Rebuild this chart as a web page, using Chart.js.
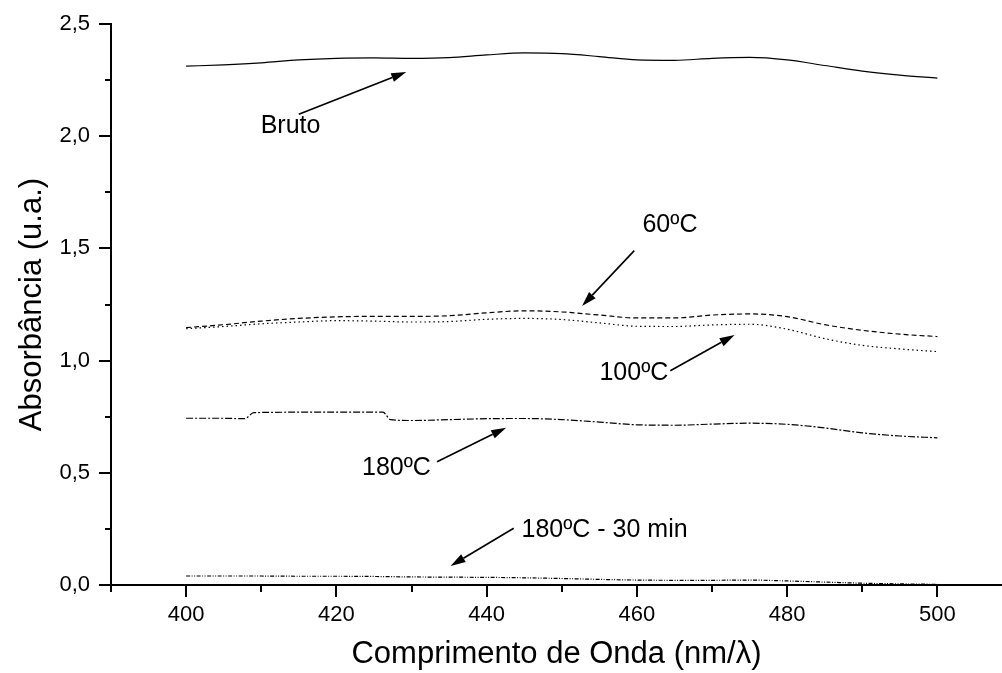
<!DOCTYPE html>
<html>
<head>
<meta charset="utf-8">
<script src="https://cdn.jsdelivr.net/npm/chart.js@4/dist/chart.umd.min.js"></script>
<style>
  html, body { margin: 0; padding: 0; background: #fff; }
  #wrap { width: 1002px; height: 673px; }
</style>
</head>
<body>
<div id="wrap"><canvas id="absChart"></canvas></div>
<script>
// wavelengths (nm)
var wl = [400, 405, 410, 415, 420, 425, 430, 435, 440, 445, 450,
          455, 460, 465, 470, 475, 480, 485, 490, 495, 500];
var wl180 = [400, 405, 407.8, 409, 415, 420, 426.2, 427.2, 430, 435, 440, 445, 450,
             455, 460, 465, 470, 475, 480, 485, 490, 495, 500];

// absorbance values
var bruto = [2.312, 2.318, 2.327, 2.340, 2.347, 2.349, 2.347, 2.350, 2.362, 2.371, 2.368,
             2.355, 2.340, 2.338, 2.347, 2.351, 2.340, 2.315, 2.290, 2.272, 2.259];
var t60 = [1.147, 1.160, 1.176, 1.188, 1.195, 1.197, 1.197, 1.200, 1.213, 1.222, 1.217,
           1.203, 1.190, 1.190, 1.203, 1.208, 1.196, 1.160, 1.135, 1.118, 1.107];
var t100 = [1.142, 1.152, 1.164, 1.172, 1.178, 1.176, 1.172, 1.174, 1.184, 1.188, 1.183,
            1.168, 1.153, 1.152, 1.159, 1.162, 1.140, 1.098, 1.068, 1.052, 1.040];
var t180 = [0.743, 0.743, 0.741, 0.768, 0.770, 0.770, 0.770, 0.737, 0.733, 0.737, 0.741, 0.742, 0.737,
            0.726, 0.714, 0.712, 0.717, 0.721, 0.716, 0.700, 0.678, 0.664, 0.656];
var t180_30 = [0.040, 0.040, 0.040, 0.039, 0.039, 0.038, 0.036, 0.035, 0.034, 0.032, 0.029,
               0.025, 0.022, 0.021, 0.021, 0.022, 0.018, 0.013, 0.008, 0.005, 0.003];

// annotation labels: text position and arrow (from -> tip), in data units
var noteText = ['Bruto', '60ºC', '100ºC', '180ºC', '180ºC - 30 min'];
var noteAt = [[413.9, 2.045], [464.4, 1.602], [459.6, 0.943], [428.0, 0.519], [455.7, 0.243]];
var arrowFrom = [[415.0, 2.098], [459.65, 1.490], [464.45, 0.955], [433.4, 0.549], [443.6, 0.253]];
var arrowTo = [[429.3, 2.286], [452.7, 1.243], [473.0, 1.114], [442.6, 0.701], [435.2, 0.085]];

var FONT = "'Liberation Sans', Arial, sans-serif";

function pts(xs, ys) {
    return xs.map(function (x, i) { return { x: x, y: ys[i] }; });
}

// draws the axis ticks (long on labelled values, short in between) and the notes
var extras = {
    id: 'extras',
    afterDraw: function (chart) {
        var ctx = chart.ctx, xs = chart.scales.x, ys = chart.scales.y;
        var area = chart.chartArea;
        ctx.save();
        ctx.strokeStyle = '#000';
        ctx.lineWidth = 2;
        ctx.beginPath();
        for (var v = 390; v <= 500; v += 10) {
            var px = Math.round(xs.getPixelForValue(v));
            var len = (v % 20 === 0) ? 12 : 7;
            ctx.moveTo(px, area.bottom);
            ctx.lineTo(px, area.bottom + len);
        }
        for (var k = 0; k <= 10; k++) {
            var py = Math.round(ys.getPixelForValue(k * 0.25));
            var l2 = (k % 2 === 0) ? 12 : 6;
            ctx.moveTo(area.left, py);
            ctx.lineTo(area.left - l2, py);
        }
        ctx.stroke();

        // notes
        ctx.fillStyle = '#000';
        ctx.font = '25px ' + FONT;
        ctx.textAlign = 'center';
        ctx.textBaseline = 'middle';
        for (var i = 0; i < noteText.length; i++) {
            ctx.fillText(noteText[i], xs.getPixelForValue(noteAt[i][0]), ys.getPixelForValue(noteAt[i][1]));
            var x1 = xs.getPixelForValue(arrowFrom[i][0]), y1 = ys.getPixelForValue(arrowFrom[i][1]);
            var x2 = xs.getPixelForValue(arrowTo[i][0]), y2 = ys.getPixelForValue(arrowTo[i][1]);
            var ang = Math.atan2(y2 - y1, x2 - x1);
            var hl = 15, hw = 4.5;
            var bx = x2 - hl * Math.cos(ang), by = y2 - hl * Math.sin(ang);
            ctx.lineWidth = 1.6;
            ctx.beginPath();
            ctx.moveTo(x1, y1);
            ctx.lineTo(bx, by);
            ctx.stroke();
            ctx.beginPath();
            ctx.moveTo(x2, y2);
            ctx.lineTo(bx + hw * Math.sin(ang), by - hw * Math.cos(ang));
            ctx.lineTo(bx - hw * Math.sin(ang), by + hw * Math.cos(ang));
            ctx.closePath();
            ctx.fill();
        }
        ctx.restore();
    }
};

new Chart(document.getElementById('absChart'), {
    type: 'line',
    data: {
        datasets: [
            { label: 'Bruto', data: pts(wl, bruto), borderDash: [] },
            { label: '60ºC', data: pts(wl, t60), borderDash: [5, 3] },
            { label: '100ºC', data: pts(wl, t100), borderDash: [1.5, 3] },
            { label: '180ºC', data: pts(wl180, t180), borderDash: [7, 2, 2, 2] },
            { label: '180ºC - 30 min', data: pts(wl, t180_30), borderDash: [4, 1.5, 1, 1.5, 1, 1.5] }
        ]
    },
    options: {
        responsive: true,
        maintainAspectRatio: false,
        animation: false,
        events: [],
        layout: { padding: { top: 24, right: 0, left: 0, bottom: 0 } },
        elements: {
            point: { radius: 0 },
            line: { borderColor: '#000', borderWidth: 1.2, cubicInterpolationMode: 'monotone', fill: false }
        },
        plugins: {
            legend: { display: false },
            tooltip: { enabled: false }
        },
        scales: {
            x: {
                type: 'linear',
                min: 390,
                max: 508.6,
                border: { display: true, color: '#000', width: 2 },
                grid: { display: false, drawTicks: false },
                ticks: {
                    stepSize: 10,
                    includeBounds: false,
                    autoSkip: false,
                    maxRotation: 0,
                    padding: 17,
                    color: '#000',
                    font: { family: FONT, size: 22 },
                    callback: function (v) { return (v % 20 === 0) ? String(v) : ''; }
                },
                title: {
                    display: true,
                    text: 'Comprimento de Onda (nm/λ)',
                    color: '#000',
                    font: { family: FONT, size: 31 },
                    padding: { top: 0, bottom: 0 }
                },
                afterFit: function (s) { s.height = 88; s.paddingLeft = 0; s.paddingRight = 0; }
            },
            y: {
                min: 0,
                max: 2.5,
                border: { display: true, color: '#000', width: 2 },
                grid: { display: false, drawTicks: false },
                ticks: {
                    stepSize: 0.25,
                    autoSkip: false,
                    padding: 21,
                    color: '#000',
                    font: { family: FONT, size: 22 },
                    callback: function (v) {
                        return Math.abs(v * 2 - Math.round(v * 2)) < 1e-6 ? v.toFixed(1).replace('.', ',') : '';
                    }
                },
                title: {
                    display: true,
                    text: 'Absorbância (u.a.)',
                    color: '#000',
                    font: { family: FONT, size: 31 },
                    padding: { top: 14, bottom: 0 }
                },
                afterFit: function (s) { s.width = 111; s.paddingTop = 0; s.paddingBottom = 0; }
            }
        }
    },
    plugins: [extras]
});
</script>
</body>
</html>
